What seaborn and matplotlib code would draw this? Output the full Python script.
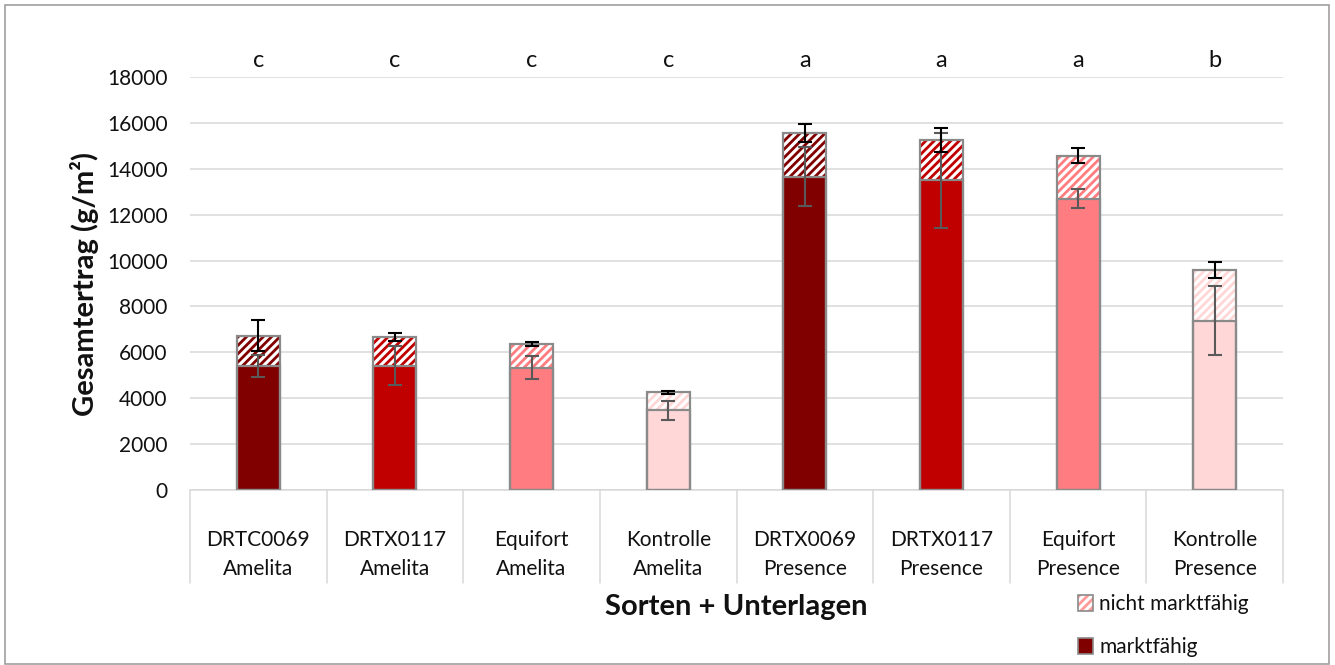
import matplotlib
matplotlib.use("Agg")
import matplotlib.pyplot as plt
import numpy as np
import pandas as pd
import seaborn as sns
from matplotlib.patches import Patch, Rectangle

# Data
unterlagen = ["DRTC0069", "DRTX0117", "Equifort", "Kontrolle",
              "DRTX0069", "DRTX0117", "Equifort", "Kontrolle"]
sorten = ["Amelita", "Amelita", "Amelita", "Amelita",
          "Presence", "Presence", "Presence", "Presence"]
marktfaehig = [5420, 5420, 5330, 3470, 13660, 13490, 12700, 7380]
gesamt = [6730, 6660, 6360, 4260, 15560, 15270, 14570, 9580]
err_markt = [480, 840, 510, 415, 1290, 2080, 420, 1510]
err_gesamt = [660, 180, 80, 75, 400, 520, 320, 350]
buchstaben = ["c", "c", "c", "c", "a", "a", "a", "b"]
farben = ["#800000", "#C00000", "#FF7C80", "#FFD7D7",
          "#800000", "#C00000", "#FF7C80", "#FFD7D7"]

EDGE = "#8A8A8A"
GRID = "#D9D9D9"
TXT = "#111111"

sns.set_style("white")
plt.rcParams["font.family"] = ["Lato", "DejaVu Sans"]
plt.rcParams["hatch.linewidth"] = 2.0

df = pd.DataFrame({
    "label": [u + "\n" + s for u, s in zip(unterlagen, sorten)],
    "gesamt": gesamt,
    "markt": marktfaehig,
})
pal = dict(zip(df["label"], farben))

fig = plt.figure(figsize=(13.35, 6.65), dpi=100)
ax = fig.add_axes([190 / 1335, 175 / 665, 1093 / 1335, 413 / 665])

# hatched top part (total), drawn first
sns.barplot(data=df, x="label", y="gesamt", hue="label", palette=pal,
            saturation=1, legend=False, width=0.315, ax=ax, zorder=2)
for p, c in zip(ax.patches, farben):
    p.set_facecolor("white")
    p.set_edgecolor(c)
    p.set_hatch("////")
    p.set_linewidth(0)
n_hatch = len(ax.patches)

# solid marketable part on top
sns.barplot(data=df, x="label", y="markt", hue="label", palette=pal,
            saturation=1, legend=False, width=0.315, ax=ax, edgecolor=EDGE,
            linewidth=1.6, zorder=3)

# gray outline of the total bars
for p in list(ax.patches[:n_hatch]):
    ax.add_patch(Rectangle(p.get_xy(), p.get_width(), p.get_height(),
                           fill=False, edgecolor=EDGE, linewidth=1.6, zorder=4))

xpos = np.arange(len(df))
ax.errorbar(xpos, marktfaehig, yerr=err_markt, fmt="none", ecolor="#595959",
            elinewidth=1.5, capsize=5, capthick=1.5, zorder=5)
ax.errorbar(xpos, gesamt, yerr=err_gesamt, fmt="none", ecolor="black",
            elinewidth=1.5, capsize=5, capthick=1.5, zorder=6)

for x, b in zip(xpos, buchstaben):
    ax.text(x, 18700, b, ha="center", va="center", fontsize=17, color=TXT,
            clip_on=False)

ax.set_ylim(0, 18000)
ax.set_xlim(-0.5, len(df) - 0.5)
ax.set_yticks(np.arange(0, 18001, 2000))
ax.yaxis.grid(True, color=GRID, linewidth=1.1, zorder=0)
ax.set_axisbelow(True)
for s in ["left", "right", "top"]:
    ax.spines[s].set_visible(False)
ax.spines["bottom"].set_color(GRID)
ax.spines["bottom"].set_linewidth(1.1)

ax.tick_params(axis="y", length=0, pad=16, labelsize=15, colors=TXT)
ax.tick_params(axis="x", length=0, pad=29, labelsize=15, colors=TXT)
for t in ax.get_xticklabels():
    t.set_linespacing(1.55)

# category separators below the axis
trans = ax.get_xaxis_transform()
for b in np.arange(-0.5, len(df), 1.0):
    ax.plot([b, b], [0, -0.225], transform=trans, color=GRID, linewidth=1.1,
            clip_on=False)

ax.set_xlabel("Sorten + Unterlagen", fontsize=21, fontweight="bold", color=TXT)
ax.xaxis.set_label_coords(0.5, -0.252)
ax.set_ylabel("Gesamtertrag (g/m²)", fontsize=21, fontweight="bold", color=TXT)
ax.yaxis.set_label_coords(-0.083, 0.5)

h_nicht = (Patch(facecolor="white", edgecolor="#FF9A9A", hatch="////", linewidth=0),
           Patch(fill=False, edgecolor=EDGE, linewidth=1.2))
h_markt = Patch(facecolor="#800000", edgecolor=EDGE, linewidth=1.2)
fig.legend([h_nicht, h_markt], ["nicht marktfähig", "marktfähig"],
           loc="upper left", bbox_to_anchor=(1068 / 1335, 1 - 584 / 665),
           frameon=False, fontsize=15, handlelength=0.7, handleheight=0.8,
           handletextpad=0.3, labelspacing=1.1, borderpad=0,
           labelcolor=TXT)

fig.patches.append(Rectangle((5 / 1335, 1 / 665), 1324 / 1335, 659 / 665,
                             transform=fig.transFigure, fill=False,
                             edgecolor="#A0A0A0", linewidth=1.2))

fig.savefig("out.png", dpi=100)
